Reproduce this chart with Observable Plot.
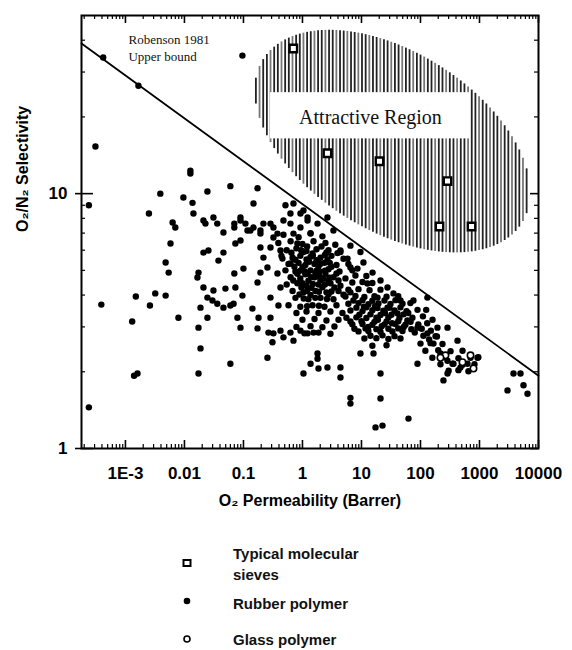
<!DOCTYPE html>
<html><head><meta charset="utf-8">
<script src="https://cdn.jsdelivr.net/npm/d3@7"></script>
<script src="https://cdn.jsdelivr.net/npm/@observablehq/plot@0.6"></script>
<style>
html,body{margin:0;padding:0;background:#fff;}
#wrap{position:relative;width:572px;height:650px;overflow:hidden;}
#wrap svg{position:absolute;left:0;display:block;}
g[aria-label="x-axis tick label"], g[aria-label="y-axis tick label"]{font-weight:bold;font-size:17px;}
</style></head>
<body><div id="wrap"></div>
<script>
// ---------- DATA (O2 permeability in Barrer, O2/N2 selectivity) ----------
const rubberSparse = [
[2.4e-4,9.0],[3.1e-4,15.3],[3.9e-4,3.67],[2.4e-4,1.45],[1.3e-3,3.15],[1.4e-3,1.93],[1.6e-3,1.97],[1.5e-3,3.95],
[2.6e-3,3.64],[3.2e-3,4.06],[4.8e-3,3.98],[2.5e-3,8.36],[3.9e-3,10.0],[4.8e-3,5.37],[5.4e-3,4.9],[5.8e-3,6.37],
[6.3e-3,7.7],[7.0e-3,7.36],[7.9e-3,3.26],[9.6e-3,9.66],[0.0126,12.3],[0.0126,12.0],[0.0137,9.2],[0.0142,8.36],
[0.0173,4.9],[0.0166,4.69],[0.0173,2.98],[0.0187,2.47],[0.0173,1.97],[0.0187,3.57],[0.021,5.87],[0.021,4.28],
[0.021,7.84],[0.0227,7.63],[0.0245,10.2],[0.0245,3.91],[0.0245,3.26],[0.0255,5.98],[0.0298,3.81],[0.031,4.17],
[0.031,8.06],[0.036,3.7],[0.036,7.63],[0.0377,5.46],[0.0458,7.04],[0.0458,5.87],[0.0458,3.57],[0.0495,4.24],
[0.060,10.7],[0.060,3.64],[0.060,2.15],[0.068,3.7],[0.070,7.63],[0.070,7.36],[0.070,4.86],[0.073,6.37],
[0.073,4.28],[0.079,3.26],[0.089,8.06],[0.089,7.84],[0.089,6.55],[0.089,2.98],[0.096,3.98],[0.1,5.08],
[0.108,7.63],[0.117,7.17],[0.131,7.17],[0.142,3.54],[0.148,9.15],[0.148,7.36],[0.173,10.5],[0.173,4.48],
[0.173,2.96],[0.18,3.26],[0.194,7.17],[0.194,6.97],[0.194,6.15],[0.194,4.9],[0.218,7.63],[0.218,5.61],
[0.255,5.13],[0.255,2.27],[0.265,2.85],[0.287,7.63],[0.287,6.15],[0.287,3.91],[0.287,3.26],[0.31,2.61],
[0.322,7.36],[0.322,6.73],[0.322,2.83],[0.377,6.97],[0.377,4.86],[0.392,3.64],[0.424,5.98],[0.424,4.28],
[0.424,2.9],[0.458,5.56],[0.476,7.84],[0.476,2.73],[0.515,9.0],[0.626,8.36],[0.626,7.63],[0.626,5.32],
[0.626,2.85],[0.704,9.15],[0.704,6.97],[0.704,2.65],[0.82,6.37],[0.925,8.36],[0.925,7.36],[0.925,4.99],
[0.925,2.9],[1.04,8.59],[1.04,1.97],[1.22,8.06],[1.22,7.84],[1.22,4.86],[1.22,2.83],[1.37,6.97],[1.37,2.15],
[1.54,2.85],[1.8,7.63],[1.8,2.36],[1.8,2.25],[1.87,2.06],[2.65,8.06],[2.65,2.08],[3.35,7.17],[4.4,5.98],
[4.4,2.08],[4.4,1.9],[5.8,5.56],[6.5,6.25],[6.5,5.13],[6.5,1.58],[6.5,1.5],[9.6,5.9],[9.6,2.36],[10.8,5.37],
[12.6,4.44],[15.4,4.9],[16,2.36],[17.3,1.21],[18.7,3.91],[21,4.56],[21,1.97],[21,1.57],[22.7,1.23],[27.6,4.28],
[27.6,3.57],[34.8,4.06],[40.7,3.39],[45.8,3.81],[60,3.18],[62.6,1.31],[76,3.81],[89,3.5],[89,2.98],[89,2.15],
[131,3.91],[131,2.83],[166,2.58],[194,2.98],[218,2.36],[245,1.85],[287,2.98],[287,2.21],[287,1.97],[362,2.15],
[424,2.65],[476,2.08],[626,2.15],[791,2.08],[925,2.27],[2985,1.69],[3770,1.97],[4950,1.97],[5570,1.77],
[6510,1.64],[4.2e-4,34.2],[1.66e-3,26.5],[0.096,34.8]
];
const rubberClusterA = [
[0.476,6.9],[0.86,6.75],[1.37,7.0],[2.18,6.8],
[0.39,6.4],[0.63,6.5],[1.0,6.35],[1.54,6.5],[2.45,6.4],[3.6,6.3],
[0.54,6.0],[0.79,6.1],[1.17,5.95],[1.73,6.05],[2.76,6.0],[4.4,5.9],
[0.44,5.7],[0.68,5.6],[0.92,5.7],[1.37,5.65],[2.02,5.6],[3.1,5.7],[4.95,5.55],
[0.58,5.3],[0.86,5.35],[1.12,5.25],[1.6,5.3],[2.36,5.35],[3.77,5.25],[6.0,5.3],
[0.515,5.0],[0.76,4.95],[1.37,5.0],[1.94,4.95],[2.76,5.05],[4.24,4.95],[7.0,5.0],
[0.63,4.7],[0.92,4.65],[1.6,4.7],[2.27,4.65],[3.35,4.7],[5.35,4.65],
[0.54,4.4],[0.82,4.45],[1.17,4.35],[1.87,4.4],[2.98,4.45],[4.4,4.35],
[0.68,4.15],[1.04,4.1],[1.66,4.15],[2.55,4.1],[4.08,4.15],[6.5,4.1],
[0.76,3.9],[1.26,3.85],[2.02,3.9],[3.35,3.85],
[0.58,3.65],[0.92,3.6],[1.48,3.65],[2.36,3.6],[3.77,3.65],
[0.79,3.4],[1.17,3.45],[1.87,3.4],[2.98,3.45],[4.76,3.4],
[1.0,3.2],[1.6,3.22],[2.55,3.18],[4.08,3.2],
[0.79,3.0],[1.37,3.02],[2.18,2.99],[3.48,3.01],
[1.08,2.83],[1.87,2.85],[2.98,2.82],
[0.65,5.86],[1.04,5.9],[1.48,5.82],[2.55,5.88],[3.92,5.84],
[0.76,5.5],[1.17,5.52],[1.73,5.48],[2.65,5.5],
[0.73,5.17],[1.0,5.15],[1.87,5.18],[3.1,5.16],
[0.82,4.85],[1.12,4.83],[1.66,4.87],[2.45,4.84],[3.77,4.86],
[0.70,4.56],[1.26,4.55],[2.02,4.57],[2.76,4.55],[4.08,4.56],
[0.96,4.28],[1.42,4.27],[2.18,4.29],[3.48,4.28],
[0.89,4.02],[1.37,4.0],[2.76,4.03],[4.95,4.01],
[1.2,6.2],[2.1,6.2],[0.95,6.0],[1.5,5.7],[2.4,5.75],[1.3,5.4],[2.0,5.3],[2.9,5.35],
[1.1,4.95],[1.75,5.0],[2.4,4.98],[1.4,4.7],[1.95,4.72],[2.9,4.68],[1.0,4.45],[1.5,4.42],
[2.4,4.4],[1.2,4.15],[1.9,4.12],[3.1,4.13],[1.05,3.88],[1.65,3.9],[2.6,3.86],[1.2,3.62],[1.9,3.63]
];
const rubberClusterB = [
[8.55,5.08],[7.9,4.77],[12.1,4.75],[7.0,4.48],[10.4,4.5],[15.3,4.46],
[6.0,4.2],[8.9,4.22],[13.7,4.18],[21,4.2],
[5.35,3.95],[7.9,3.97],[11.2,3.93],[16.6,3.96],[26.6,3.94],[42,3.96],
[6.0,3.7],[8.9,3.72],[13.1,3.68],[19.4,3.71],[31,3.69],[49.6,3.7],[67.4,3.72],
[6.5,3.48],[10.4,3.46],[15.3,3.49],[23.5,3.47],[36.3,3.48],[58,3.46],
[5.56,3.26],[8.2,3.27],[12.1,3.25],[17.9,3.26],[28.6,3.27],[44,3.25],[73,3.26],
[7.0,3.07],[10.4,3.08],[15.3,3.06],[24.5,3.07],[37.7,3.08],[55.6,3.06],[92,3.07],
[8.9,2.88],[13.1,2.89],[21,2.87],[33.5,2.88],[49.6,2.89],
[11.2,2.7],[17.9,2.71],[28.6,2.69],[45.8,2.7],[15.3,2.53],[26.6,2.54],
[7.3,3.81],[10.4,3.82],[15.3,3.8],[24.5,3.81],[37.7,3.82],
[8.2,3.57],[12.1,3.58],[18.7,3.56],[29.8,3.57],[45.8,3.58],
[9.2,3.35],[14.2,3.36],[21,3.34],[32.2,3.35],[51.6,3.36],
[6.5,3.15],[10,3.16],[16.6,3.14],[26.6,3.15],[42,3.16],[68,3.14],
[7.6,2.95],[11.7,2.96],[17.9,2.94],[28.6,2.95],[42,2.96],[70,2.94],
[14.2,2.77],[22.7,2.78],[36.3,2.76],
[110,3.3],[130,3.1],[150,2.9],[105,2.95],[125,3.5],[160,3.2],[190,2.75],[140,2.68],
[11,3.6],[17,3.62],[25,3.4],[19,3.2],[13,3.0],[22,3.02],[33,3.1],[52,3.0],[80,2.85],[62,3.4]
];
const rubberClusterC = [
[112,2.77],[180,2.76],[100,2.58],[148,2.59],[236,2.57],
[121,2.42],[200,2.43],[323,2.41],[516,2.42],
[159,2.27],[262,2.28],[440,2.26],[705,2.27],[956,2.28],
[218,2.14],[349,2.15],[516,2.13],[823,2.14],
[300,2.02],[440,2.03],[650,2.01]
];
const glassPolymer = [[265,2.32],[515,2.18],[704,2.32],[791,2.06],[218,2.27]];
const sievesP = [0.70, 2.65, 20.2, 287, 210, 733];
const sievesS = [37.1, 14.4, 13.4, 11.2, 7.43, 7.43];
const boundP = [1.8e-4, 1e4];
const boundS = [38.8, 1.93];
// attractive region: ellipse in log10 units (center, half-axis vectors in decades)
const regionCenter = [33.5, 16.0];
const regionMajor = [2.19, -0.322];
const regionMinor = [-0.808, -0.295];
const regionBox = {x1: 0.287, x2: 704, y1: 16.4, y2: 24.9};
const regionLabel = {x: 14.2, y: 19.9, text: "Attractive Region"};
const boundLabel = {x: 1.125e-3, y: 42.9, text: "Robenson 1981\nUpper bound"};
const xTickValues = [1e-3, 1e-2, 0.1, 1, 10, 100, 1000, 10000];
const xTickLabels = ["1E-3", "0.01", "0.1", "1", "10", "100", "1000", "10000"];
const yTickValues = [1, 10];
const yTickLabels = ["1", "10"];
const legendLabels = [["Typical molecular", "sieves"], ["Rubber polymer"], ["Glass polymer"]];

// ---------- derived ----------
const rubber = [...rubberSparse, ...rubberClusterA, ...rubberClusterB, ...rubberClusterC];
const sieves = sievesP.map((p, i) => ({p, s: sievesS[i]}));
const bound = boundP.map((p, i) => ({p, s: boundS[i]}));
const xDomain = [1.8e-4, 1e4], yDomain = [1, 50];
const xMinor = [];
for (let e = -4; e <= 3; e++) for (let m = 2; m <= 9; m++) { const v = m * 10 ** e; if (v > xDomain[0] && v < xDomain[1]) xMinor.push(v); }
const yMinor = [2,3,4,5,6,7,8,9,20,30,40];

// hatch lines of the ellipse
const hatch = [];
{
  const cx = Math.log10(regionCenter[0]), cy = Math.log10(regionCenter[1]);
  const [ux, uy] = regionMajor, [vx, vy] = regionMinor;
  const R = Math.hypot(ux, vx), phi = Math.atan2(vx, ux);
  const step = 0.062;
  let i = 0;
  for (let L = cx - R + 0.02; L < cx + R; L += step, i++) {
    const a = Math.acos((L - cx) / R);
    const t1 = phi + a, t2 = phi - a;
    const ya = cy + uy * Math.cos(t1) + vy * Math.sin(t1);
    const yb = cy + uy * Math.cos(t2) + vy * Math.sin(t2);
    hatch.push({x: 10 ** L, y1: 10 ** ya, y2: 10 ** yb, k: i % 3});
  }
}

const W = 572, SVGH = 520, mT = 15, mR = 34, mB = 72, mL = 81;
const FH = SVGH - mT - mB, FW = W - mL - mR;

const chart = Plot.plot({
  width: W, height: SVGH,
  marginTop: mT, marginRight: mR, marginBottom: mB, marginLeft: mL,
  style: {fontFamily: "'Liberation Sans', Arial, sans-serif", background: "white", color: "black"},
  x: {type: "log", domain: xDomain},
  y: {type: "log", domain: yDomain},
  marks: [
    Plot.ruleX(hatch, {x: "x", y1: "y1", y2: "y2", stroke: d => d.k === 1 ? "#777" : "#222", strokeWidth: 1.8}),
    Plot.rect([regionBox], {x1: "x1", x2: "x2", y1: "y1", y2: "y2", fill: "white"}),
    Plot.text([regionLabel], {x: "x", y: "y", text: "text", fontFamily: "'Liberation Serif', 'Times New Roman', serif", fontSize: 20, fill: "#111"}),
    Plot.line(bound, {x: "p", y: "s", stroke: "black", strokeWidth: 1.8}),
    Plot.dot(rubber, {x: d => d[0], y: d => d[1], r: 3.2, fill: "black", stroke: "none"}),
    Plot.dot(glassPolymer, {x: d => d[0], y: d => d[1], r: 3.2, fill: "white", stroke: "black", strokeWidth: 1.6}),
    Plot.dot(sieves, {x: "p", y: "s", symbol: "square", r: 4.2, fill: "white", stroke: "black", strokeWidth: 2.4}),
    Plot.text([boundLabel], {x: "x", y: "y", text: "text", textAnchor: "start", lineAnchor: "top", lineHeight: 1.3, fontFamily: "'Liberation Serif', 'Times New Roman', serif", fontSize: 13, fill: "#111"}),
    // inward ticks
    Plot.ruleX(xMinor, {x: d => d, insetTop: FH - 4, strokeWidth: 1.2}),
    Plot.ruleX(xMinor, {x: d => d, insetBottom: FH - 4, strokeWidth: 1.2}),
    Plot.ruleX(xTickValues, {x: d => d, insetTop: FH - 8, strokeWidth: 1.6}),
    Plot.ruleX(xTickValues, {x: d => d, insetBottom: FH - 8, strokeWidth: 1.6}),
    Plot.ruleY(yMinor, {y: d => d, insetRight: FW - 4, strokeWidth: 1.2}),
    Plot.ruleY(yMinor, {y: d => d, insetLeft: FW - 4, strokeWidth: 1.2}),
    Plot.ruleY(yTickValues, {y: d => d, insetRight: FW - 12, strokeWidth: 1.6}),
    Plot.ruleY(yTickValues, {y: d => d, insetLeft: FW - 8, strokeWidth: 1.6}),
    Plot.frame({stroke: "black", strokeWidth: 2}),
    Plot.axisX({ticks: xTickValues, tickSize: 0, tickPadding: 18, tickFormat: d => xTickLabels[xTickValues.indexOf(d)], fontSize: 17, fontWeight: "bold", label: null}),
    Plot.axisY({ticks: yTickValues, tickSize: 6, tickPadding: 8, strokeWidth: 1.6, tickFormat: d => yTickLabels[yTickValues.indexOf(d)], fontSize: 17, fontWeight: "bold", label: null}),
    Plot.text(["O\u2082 Permeability (Barrer)"], {frameAnchor: "bottom", dy: 46, lineAnchor: "top", fontSize: 16, fontWeight: "bold"}),
    Plot.text(["O\u2082/N\u2082 Selectivity"], {frameAnchor: "left", dx: -59, rotate: -90, fontSize: 16, fontWeight: "bold"})
  ]
});
chart.style.top = "0px";
document.getElementById("wrap").appendChild(chart);

// ---------- legend below the plot ----------
const ns = "http://www.w3.org/2000/svg";
const leg = document.createElementNS(ns, "svg");
leg.setAttribute("width", 572); leg.setAttribute("height", 130);
leg.style.top = SVGH + "px";
const mk = (tag, attrs, text) => { const e = document.createElementNS(ns, tag); for (const k in attrs) e.setAttribute(k, attrs[k]); if (text) e.textContent = text; leg.appendChild(e); return e; };
const txt = {"font-family": "'Liberation Sans', Arial, sans-serif", "font-size": 15, "font-weight": "bold", fill: "#111"};
mk("rect", {x: 183.5, y: 40, width: 7, height: 6, fill: "white", stroke: "black", "stroke-width": 2});
mk("text", {...txt, x: 233, y: 39}, legendLabels[0][0]);
mk("text", {...txt, x: 233, y: 60}, legendLabels[0][1]);
mk("circle", {cx: 187, cy: 81, r: 3.3, fill: "black"});
mk("text", {...txt, x: 233, y: 89}, legendLabels[1][0]);
mk("circle", {cx: 187, cy: 119, r: 3, fill: "white", stroke: "black", "stroke-width": 1.6});
mk("text", {...txt, x: 233, y: 125}, legendLabels[2][0]);
document.getElementById("wrap").appendChild(leg);
</script>
</body></html>
